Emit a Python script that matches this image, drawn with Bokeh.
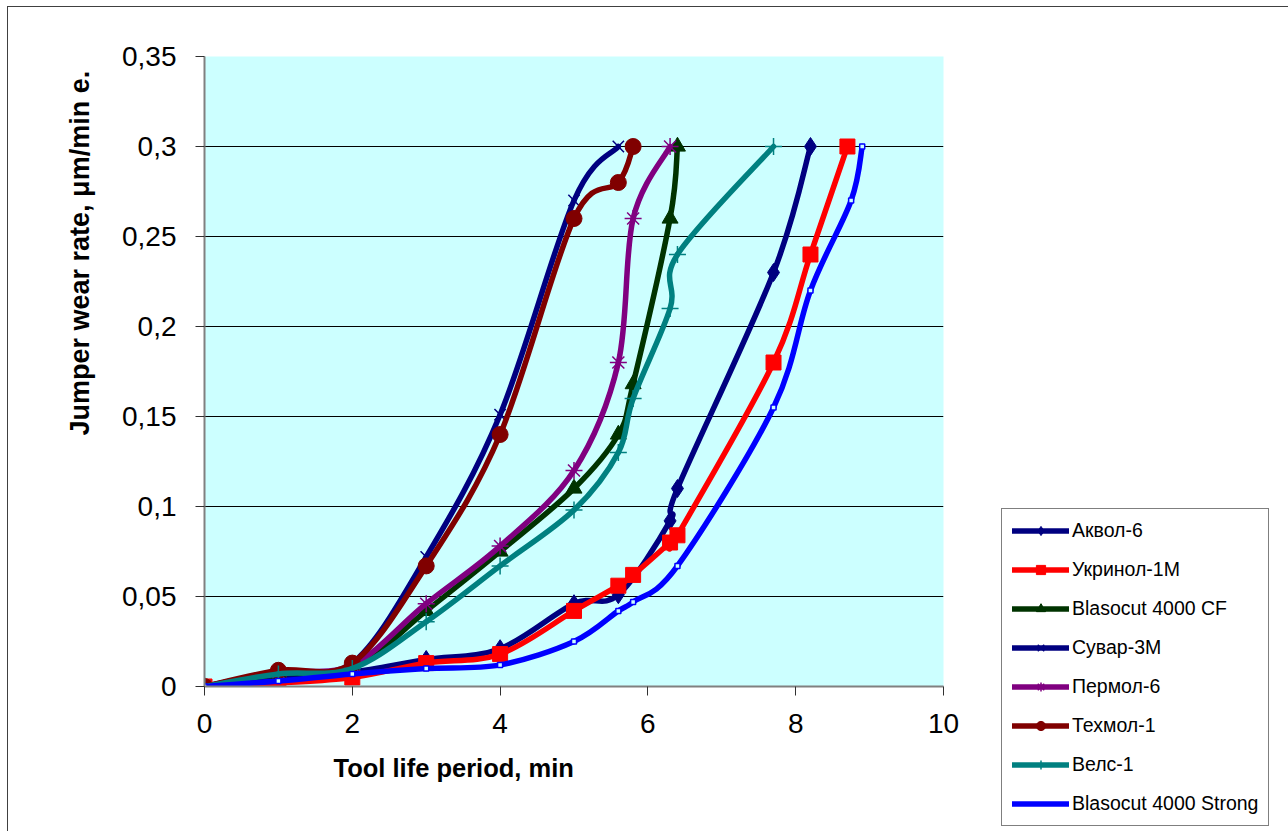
import numpy as np
from bokeh.plotting import figure
from bokeh.models import Legend, LegendItem, FixedTicker, Range1d, Title
from bokeh.embed import file_html
from bokeh.resources import INLINE

# ---------------- data ----------------
series_names = ["Аквол-6", "Укринол-1М", "Blasocut 4000 CF", "Сувар-3М",
                "Пермол-6", "Техмол-1", "Велс-1", "Blasocut 4000 Strong"]

akvol_x = [0, 1, 2, 3, 4, 5, 5.6, 6.3, 6.4, 7.7, 8.2]
akvol_y = [0, 0.004, 0.008, 0.015, 0.021, 0.046, 0.051, 0.092, 0.11, 0.23, 0.3]

ukrinol_x = [0, 1, 2, 3, 4, 5, 5.6, 5.8, 6.3, 6.4, 7.7, 8.2, 8.7]
ukrinol_y = [0, 0.002, 0.005, 0.013, 0.018, 0.042, 0.056, 0.062, 0.08, 0.084, 0.18, 0.24, 0.3]

blasocf_x = [0, 1, 2, 3, 4, 5, 5.6, 5.8, 6.3, 6.4]
blasocf_y = [0, 0.007, 0.01, 0.042, 0.075, 0.11, 0.14, 0.168, 0.26, 0.3]

suvar_x = [0, 1, 2, 3, 4, 5, 5.6]
suvar_y = [0, 0.008, 0.013, 0.072, 0.151, 0.27, 0.3]

permol_x = [0, 1, 2, 3, 4, 5, 5.6, 5.8, 6.3]
permol_y = [0, 0.008, 0.012, 0.046, 0.078, 0.12, 0.18, 0.26, 0.3]

tehmol_x = [0, 1, 2, 3, 4, 5, 5.6, 5.8]
tehmol_y = [0, 0.009, 0.013, 0.067, 0.14, 0.26, 0.28, 0.3]

vels_x = [0, 1, 2, 3, 4, 5, 5.6, 5.8, 6.3, 6.4, 7.7]
vels_y = [0, 0.007, 0.01, 0.036, 0.067, 0.098, 0.13, 0.16, 0.21, 0.24, 0.3]

strong_x = [0, 1, 2, 3, 4, 5, 5.6, 5.8, 6.4, 7.7, 8.2, 8.75, 8.9]
strong_y = [0, 0.003, 0.007, 0.01, 0.012, 0.025, 0.042, 0.047, 0.067, 0.155, 0.22, 0.27, 0.3]

x_ticks = [0, 2, 4, 6, 8, 10]
x_tick_labels = ["0", "2", "4", "6", "8", "10"]
y_ticks = [0, 0.05, 0.1, 0.15, 0.2, 0.25, 0.3, 0.35]
y_tick_labels = ["0", "0,05", "0,1", "0,15", "0,2", "0,25", "0,3", "0,35"]
y_grid = [0.05, 0.1, 0.15, 0.2, 0.25, 0.3]

x_title = "Tool life period, min"
y_title = "Jumper wear rate, μm/min e."

# ---------------- styles ----------------
styles = [
    dict(color="#000080", marker="diamond", size=18, fill=True),
    dict(color="#FF0000", marker="square", size=15, fill=True),
    dict(color="#003300", marker="triangle", size=16, fill=True),
    dict(color="#000080", marker="x", size=16, fill=False),
    dict(color="#800080", marker="asterisk", size=17, fill=False),
    dict(color="#800000", marker="circle", size=16, fill=True),
    dict(color="#008080", marker="cross", size=17, fill=False),
    dict(color="#0000FF", marker="square", size=5, fill=False),
]
series = [(akvol_x, akvol_y), (ukrinol_x, ukrinol_y), (blasocf_x, blasocf_y),
          (suvar_x, suvar_y), (permol_x, permol_y), (tehmol_x, tehmol_y),
          (vels_x, vels_y), (strong_x, strong_y)]

FONT = "Liberation Sans"

FL, FT, FW, FH = 196, 49, 739, 630
p = figure(frame_width=FW, frame_height=FH, output_backend="svg", toolbar_location=None,
           x_range=Range1d(0, 10), y_range=Range1d(0, 0.35),
           min_border_left=FL, min_border_top=FT,
           min_border_right=338, min_border_bottom=145)
p.styles = {"margin-left": "7px", "margin-top": "6px",
            "border-left": "1px solid #404040", "border-top": "1px solid #404040",
            "border-right": "1px solid #404040"}
p.background_fill_color = "#CCFFFF"
p.border_fill_color = "white"
p.outline_line_color = None

p.xgrid.visible = False
p.ygrid.ticker = FixedTicker(ticks=y_grid)
p.ygrid.grid_line_color = "black"
p.ygrid.grid_line_width = 1

for ax, ticks, labels in ((p.xaxis[0], x_ticks, x_tick_labels),
                          (p.yaxis[0], y_ticks, y_tick_labels)):
    ax.ticker = FixedTicker(ticks=ticks)
    ax.major_label_overrides = {t: l for t, l in zip(ticks, labels)}
    ax.axis_line_color = "#808080"
    ax.axis_line_width = 2
    ax.major_tick_line_color = "#303030"
    ax.major_tick_out = 9
    ax.major_tick_in = 0
    ax.minor_tick_line_color = None
    ax.major_label_text_font = FONT
    ax.major_label_text_font_size = "28px"
    ax.major_label_text_color = "black"
p.yaxis[0].major_label_standoff = 19
p.xaxis[0].major_label_standoff = 18


def bezier_parts(xs, ys):
    x = np.asarray(xs, float)
    y = np.asarray(ys, float)
    n = len(x)
    xp = np.concatenate([[x[0]], x, [x[-1]]])
    yp = np.concatenate([[y[0]], y, [y[-1]]])
    i = np.arange(n - 1)
    cx0 = x[i] + (xp[i + 2] - xp[i]) / 6.0
    cy0 = y[i] + (yp[i + 2] - yp[i]) / 6.0
    cx1 = x[i + 1] - (xp[i + 3] - xp[i + 1]) / 6.0
    cy1 = y[i + 1] - (yp[i + 3] - yp[i + 1]) / 6.0
    return dict(x0=x[:-1], y0=y[:-1], x1=x[1:], y1=y[1:],
                cx0=cx0, cy0=cy0, cx1=cx1, cy1=cy1)


items = []
for name, (xs, ys), st in zip(series_names, series, styles):
    b = p.bezier(**bezier_parts(xs, ys), line_color=st["color"], line_width=5.5,
                 line_cap="round")
    fill = st["color"] if st["fill"] else ("#CCFFFF" if st["marker"] == "square" else None)
    s = p.scatter(xs, ys, marker=st["marker"], size=st["size"],
                  line_color=st["color"], fill_color=fill,
                  line_width=1.5 if not st["fill"] else 1)
    rends = [b, s] if st["size"] > 6 else [b]
    items.append(LegendItem(label=name, renderers=rends))

legend = Legend(items=items, location=(58, -140))
legend.label_text_font = FONT
legend.label_text_font_size = "19.5px"
legend.label_text_color = "black"
legend.glyph_width = 57
legend.glyph_height = 23
legend.label_height = 23
legend.spacing = 16
legend.padding = 10
legend.margin = 0
legend.label_standoff = 3
legend.border_line_color = "black"
legend.border_line_width = 1
legend.background_fill_color = "white"
legend.background_fill_alpha = 1
p.add_layout(legend, "right")

xt = Title(text=x_title, align="left", offset=129, standoff=36,
           vertical_align="top", text_font=FONT, text_font_size="25.5px",
           text_font_style="bold", text_color="black")
p.add_layout(xt, "below")
yt = Title(text=y_title, align="left", offset=251, standoff=49,
           vertical_align="bottom", text_font=FONT, text_font_size="27px",
           text_font_style="bold", text_color="black")
p.add_layout(yt, "left")

open("out.html", "w").write(file_html(p, INLINE))
